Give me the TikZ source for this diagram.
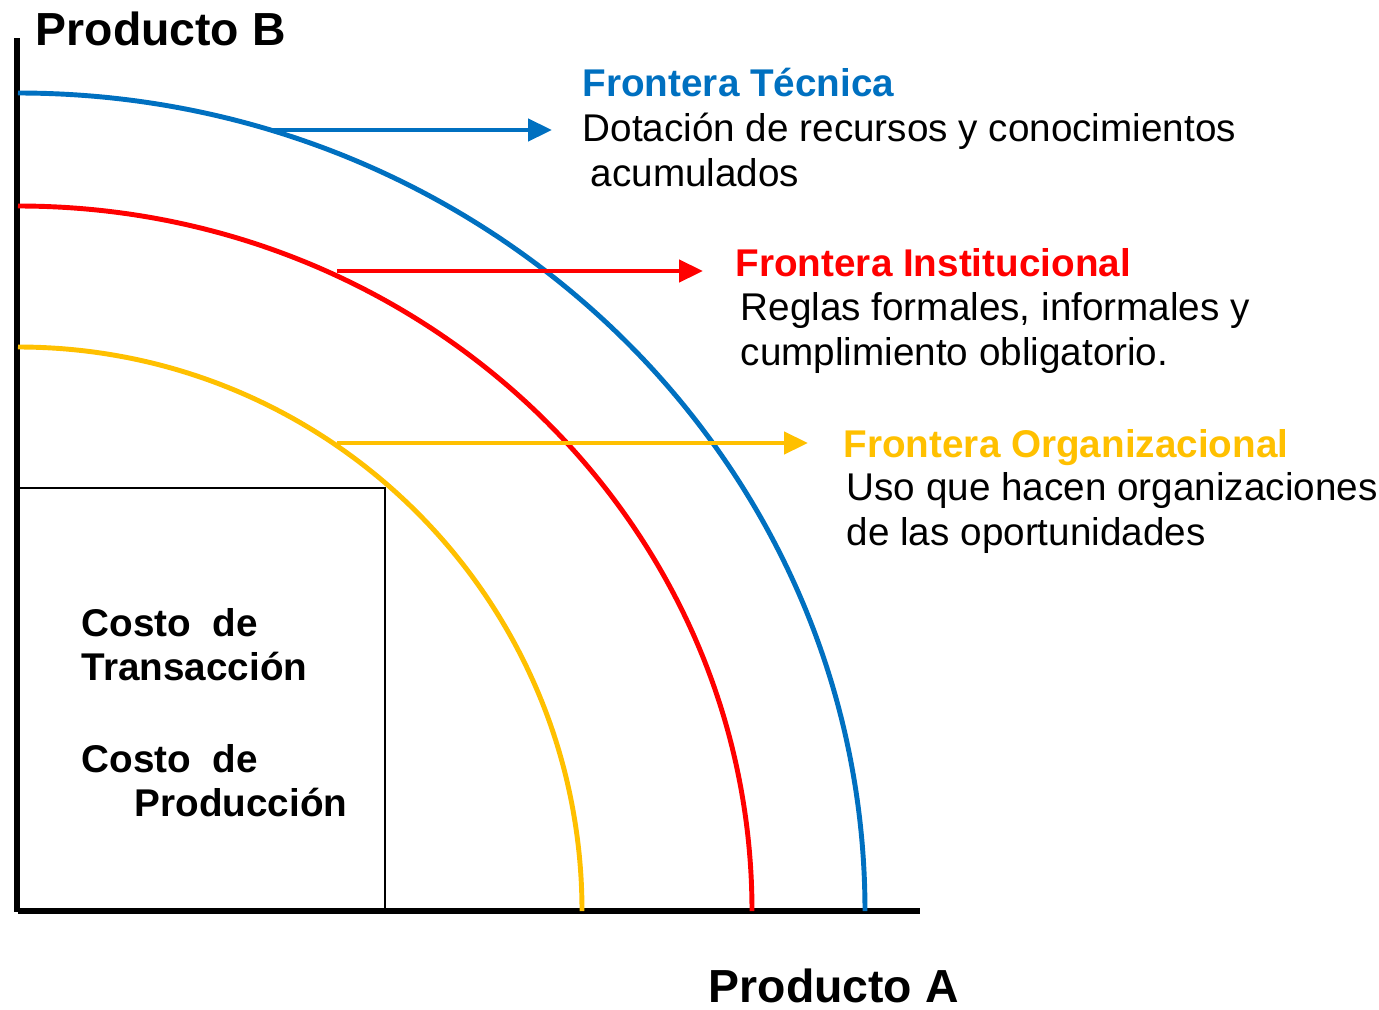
\documentclass[tikz,border=0pt]{standalone}
\usepackage{fontspec}
\setmainfont{Liberation Sans}
\usetikzlibrary{arrows.meta}

\definecolor{tecblue}{HTML}{0070C0}
\definecolor{instred}{HTML}{FF0000}
\definecolor{orgyellow}{HTML}{FFC000}

\tikzset{
  frontier/.style={line width=1.4pt},
  pointer/.style={line width=1.3pt,-{Triangle[length=0.24cm,width=0.22cm]}},
  txt/.style={inner sep=0pt,anchor=base west,align=left,
              font=\fontsize{11}{12.8}\selectfont},
  ttl/.style={txt,font=\fontsize{11}{12.5}\selectfont\bfseries},
  axislabel/.style={inner sep=0pt,anchor=base west,
              font=\fontsize{13.2}{15}\selectfont\bfseries}
}

\begin{document}
\begin{tikzpicture}
  \useasboundingbox (-0.18,-0.98) rectangle (13.61,9.11);
  % cost box
  \draw[line width=0.8pt] (0,0) rectangle (3.67,4.23);
  % axes
  \draw[line width=1.9pt] (-0.01,8.73) -- (-0.01,-0.01);
  \draw[line width=1.9pt] (0,0) -- (9.02,0);
  \node[axislabel] (prodB) at (0.17,8.66) {Producto B};
  \node[axislabel] (prodA) at (6.90,-0.91) {Producto A};
  % frontiers
  \draw[frontier,tecblue] (0,8.18) arc[start angle=90,end angle=0,x radius=8.47,y radius=8.18];
  \draw[frontier,instred] (0,7.05) arc[start angle=90,end angle=0,x radius=7.34,y radius=7.05];
  \draw[frontier,orgyellow] (0,5.64) arc[start angle=90,end angle=0,x radius=5.64,y radius=5.64];
  % labels (two-line nodes sit on the baseline of their last line)
  \node[ttl,tecblue] (tecTitle) at (5.64,8.15) {Frontera Técnica};
  \node[txt] (tecText) at (5.64,7.25) {Dotación de recursos y conocimientos\\\hspace*{0.08cm}acumulados};
  \node[ttl,instred] (instTitle) at (7.17,6.35) {Frontera Institucional};
  \node[txt] (instText) at (7.22,5.46) {Reglas formales, informales y\\cumplimiento obligatorio.};
  \node[ttl,orgyellow] (orgTitle) at (8.25,4.54) {Frontera Organizacional};
  \node[txt] (orgText) at (8.28,3.66) {Uso que hacen organizaciones\\de las oportunidades};
  \node[ttl] (ctTrans) at (0.63,2.31) {Costo\ \ de\\Transacción};
  \node[ttl] (ctProd) at (0.63,0.95) {Costo\ \ de\\\hspace*{0.53cm}Producción};
  % pointers
  \coordinate (tecStart) at (2.54,7.81);
  \coordinate (instStart) at (3.19,6.40);
  \coordinate (orgStart) at (3.19,4.68);
  \draw[pointer,tecblue] (tecStart) -- ([xshift=-0.3cm]tecTitle.west |- tecStart);
  \draw[pointer,instred] (instStart) -- ([xshift=-0.32cm]instTitle.west |- instStart);
  \draw[pointer,orgyellow] (orgStart) -- ([xshift=-0.35cm]orgTitle.west |- orgStart);
\end{tikzpicture}
\end{document}
